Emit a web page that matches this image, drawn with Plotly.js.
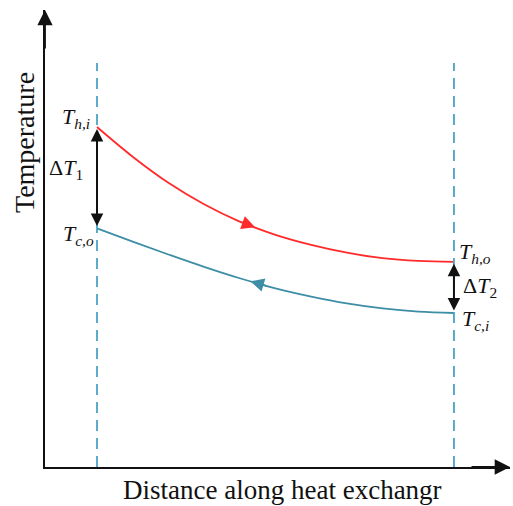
<!DOCTYPE html>
<html>
<head>
<meta charset="utf-8">
<script src="https://cdn.plot.ly/plotly-3.0.1.min.js"></script>
<style>html,body{margin:0;padding:0;background:#fff;}#chart{width:513px;height:506px;}</style>
</head>
<body>
<div id="chart"></div>
<script>
// Distance along exchanger (0 = hot inlet end, 1 = hot outlet end)
const distance = [0, 0.1, 0.2, 0.3, 0.4, 0.5, 0.6, 0.7, 0.8, 0.9, 1.0];
// Hot fluid temperature (arbitrary units)
const hotTemp = [74.4, 67.9, 62.2, 57.5, 53.7, 50.8, 48.6, 46.9, 45.7, 45.1, 44.9];
// Cold fluid temperature (arbitrary units)
const coldTemp = [52.2, 49.3, 46.5, 43.8, 41.3, 39.1, 37.3, 35.8, 34.7, 34.0, 33.7];
// Exchanger ends (dashed guides)
const exchangerEnds = [0, 1];
const guideTop = 88.4;
// Flow-direction arrow positions [tail, tip]
const hotArrowX = [0.40, 0.443];
const hotArrowT = [53.7, 52.45];
const coldArrowX = [0.48, 0.43];
const coldArrowT = [39.5, 40.64];
// Text
const xTitle = 'Distance along heat exchangr';
const yTitle = 'Temperature';
const labels = {
  thi: '<i>T</i><sub><i>h,i</i></sub>',
  tco: '<i>T</i><sub><i>c,o</i></sub>',
  tho: '<i>T</i><sub><i>h,o</i></sub>',
  tci: '<i>T</i><sub><i>c,i</i></sub>',
  dt1: 'Δ<i>T</i><sub>1</sub>',
  dt2: 'Δ<i>T</i><sub>2</sub>'
};

const RED = '#ff2b2b';
const TEAL = '#3d8ea6';
const DASH = '#4ba2c4';
const SERIF = '"Liberation Serif", "Times New Roman", "DejaVu Serif", serif';
const n = distance.length - 1;

const traces = [
  {x: distance, y: hotTemp, type: 'scatter', mode: 'lines',
   line: {color: RED, width: 1.8, shape: 'spline', smoothing: 1}, hoverinfo: 'skip'},
  {x: distance, y: coldTemp, type: 'scatter', mode: 'lines',
   line: {color: TEAL, width: 1.8, shape: 'spline', smoothing: 1}, hoverinfo: 'skip'}
];

const shapes = exchangerEnds.map(xv => ({
  type: 'line', xref: 'x', yref: 'y', x0: xv, x1: xv, y0: 0, y1: guideTop,
  line: {color: DASH, width: 1.8, dash: '11px,7px'}
}));

const lab = (x, y, text, xanchor, xshift, yshift) => ({
  x, y, xref: 'x', yref: 'y', text, showarrow: false, xanchor, yanchor: 'middle',
  xshift, yshift, font: {family: SERIF, size: 22, color: '#111'}
});

const annotations = [
  // axis arrows
  {xref: 'paper', yref: 'paper', x: 0, y: 1, axref: 'pixel', ayref: 'pixel', ax: 0, ay: 40,
   showarrow: true, arrowhead: 2, arrowwidth: 1.8, arrowsize: 1.7, arrowcolor: '#111', text: ''},
  {xref: 'paper', yref: 'paper', x: 1, y: 0, axref: 'pixel', ayref: 'pixel', ax: -40, ay: 0,
   showarrow: true, arrowhead: 2, arrowwidth: 1.8, arrowsize: 1.7, arrowcolor: '#111', text: ''},
  // axis titles
  {xref: 'paper', yref: 'paper', x: (282 - 45) / 465, y: (467 - 490) / 457, text: xTitle,
   showarrow: false, xanchor: 'center', yanchor: 'middle',
   font: {family: SERIF, size: 27, color: '#111'}},
  {xref: 'paper', yref: 'paper', x: (24 - 45) / 465, y: (467 - 143) / 457, text: yTitle,
   showarrow: false, textangle: -90, xanchor: 'center', yanchor: 'middle',
   font: {family: SERIF, size: 28, color: '#111'}},
  // flow arrows
  {x: hotArrowX[1], y: hotArrowT[1], axref: 'x', ayref: 'y', ax: hotArrowX[0], ay: hotArrowT[0],
   xref: 'x', yref: 'y', showarrow: true, arrowhead: 2, arrowwidth: 1.5, arrowsize: 1.8,
   arrowcolor: RED, text: ''},
  {x: coldArrowX[1], y: coldArrowT[1], axref: 'x', ayref: 'y', ax: coldArrowX[0], ay: coldArrowT[0],
   xref: 'x', yref: 'y', showarrow: true, arrowhead: 2, arrowwidth: 1.5, arrowsize: 1.8,
   arrowcolor: TEAL, text: ''},
  // delta T arrows
  {x: distance[0], y: hotTemp[0], axref: 'x', ayref: 'y', ax: distance[0], ay: coldTemp[0],
   xref: 'x', yref: 'y', showarrow: true, arrowside: 'end+start', arrowhead: 2, startarrowhead: 2,
   arrowwidth: 2, arrowsize: 1.25, startarrowsize: 1.25, standoff: 2, startstandoff: 1,
   arrowcolor: '#111', text: ''},
  {x: distance[n], y: hotTemp[n], axref: 'x', ayref: 'y', ax: distance[n], ay: coldTemp[n],
   xref: 'x', yref: 'y', showarrow: true, arrowside: 'end+start', arrowhead: 2, startarrowhead: 2,
   arrowwidth: 2, arrowsize: 1.25, startarrowsize: 1.25, standoff: 2, startstandoff: 1,
   arrowcolor: '#111', text: ''},
  // labels
  lab(distance[0], hotTemp[0], labels.thi, 'right', -5, 9),
  lab(distance[0], (hotTemp[0] + coldTemp[0]) / 2, labels.dt1, 'right', -12, 9),
  lab(distance[0], coldTemp[0], labels.tco, 'right', -1, -7),
  lab(distance[n], hotTemp[n], labels.tho, 'left', 3, 9),
  lab(distance[n], (hotTemp[n] + coldTemp[n]) / 2, labels.dt2, 'left', 7, 0),
  lab(distance[n], coldTemp[n], labels.tci, 'left', 6, -7)
];

const layout = {
  width: 513, height: 506,
  margin: {l: 45, r: 3, t: 10, b: 39, pad: 0},
  paper_bgcolor: '#fff', plot_bgcolor: '#fff',
  showlegend: false,
  xaxis: {range: [-0.1457, 1.157], showline: true, linecolor: '#111', linewidth: 1.8,
          showgrid: false, zeroline: false, showticklabels: false, ticks: '', fixedrange: true},
  yaxis: {range: [0, 100], showline: true, linecolor: '#111', linewidth: 1.8,
          showgrid: false, zeroline: false, showticklabels: false, ticks: '', fixedrange: true},
  shapes, annotations
};

Plotly.newPlot('chart', traces, layout, {staticPlot: true, displayModeBar: false});
</script>
</body>
</html>
